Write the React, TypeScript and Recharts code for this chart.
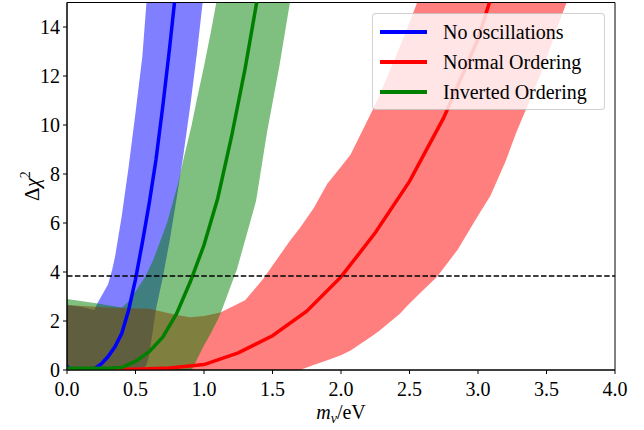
import React from 'react';
import { ComposedChart, Area, Line, XAxis, YAxis, ReferenceLine, ReferenceArea, Legend } from 'recharts';

const FONT = '"Liberation Serif", "DejaVu Serif", serif';

// Tick labels
const xTicks = [0, 0.5, 1, 1.5, 2, 2.5, 3, 3.5, 4];
const yTicks = [0, 2, 4, 6, 8, 10, 12, 14];
const threshold = 3.84;

// Series names / colours
const seriesNames = ['No oscillations', 'Normal Ordering', 'Inverted Ordering'];
const seriesColors = ['#0000ff', '#ff0000', '#008000'];

// No oscillations band
const blueBandX = [0, 0.1, 0.2, 0.22, 0.26, 0.3, 0.33, 0.35, 0.4, 0.45, 0.5, 0.55, 0.58, 0.6, 0.65, 0.7, 0.75, 0.8, 0.85, 0.9, 0.95, 1.0, 1.05];
const blueBandLo = [0, 0, 0, 0, 0, 0, 0, 0, 0, 0, 0, 0, 0.2, 0.6, 2.5, 3.8, 5.3, 7.0, 8.8, 10.8, 13.0, 15.5, 18];
const blueBandHi = [2.65, 2.58, 2.45, 2.7, 3.1, 3.5, 4.1, 4.6, 6.3, 8.3, 10.5, 12.8, 15.0, 16.5, 19, 20, 20, 20, 20, 20, 20, 20, 20];

// Normal ordering band
const redBandX = [0, 0.3, 0.6, 0.8, 0.9, 1.0, 1.12, 1.3, 1.43, 1.63, 1.7, 1.8, 1.9, 2.0, 2.07, 2.23, 2.28, 2.43, 2.48, 2.57, 2.7, 2.85, 3.0, 3.09, 3.2, 3.28, 3.4, 3.48, 3.58, 3.66, 3.75];
const redBandLo = [0, 0, 0, 0, 0, 0, 0, 0, 0, 0, 0, 0.2, 0.4, 0.6, 0.8, 1.4, 1.6, 2.3, 2.6, 3.1, 3.8, 4.9, 6.3, 7.1, 8.5, 9.7, 11.3, 12.4, 14.0, 15.2, 17];
const redBandHi = [2.65, 2.55, 2.5, 2.25, 2.15, 2.2, 2.35, 2.85, 3.7, 5.3, 5.8, 6.6, 7.6, 8.3, 8.8, 10.6, 11.2, 13.2, 13.9, 15.2, 18, 20, 20, 20, 20, 20, 20, 20, 20, 20, 20];

// Inverted ordering band
const greenBandX = [0, 0.2, 0.4, 0.45, 0.5, 0.57, 0.63, 0.73, 0.81, 0.85, 0.91, 0.95, 1.0, 1.05, 1.1, 1.12, 1.2, 1.24, 1.3, 1.38, 1.46, 1.55, 1.63, 1.7];
const greenBandLo = [0, 0, 0, 0, 0, 0, 0, 0, 0, 0, 0, 0.45, 1.0, 1.5, 2.05, 2.3, 3.5, 4.1, 5.3, 6.9, 9.7, 12.4, 15.1, 17];
const greenBandHi = [2.9, 2.73, 2.55, 2.8, 3.2, 3.8, 4.5, 6.0, 7.6, 8.6, 10.0, 11.1, 12.4, 13.8, 15.3, 16, 18, 20, 20, 20, 20, 20, 20, 20];

// Central curves
const blueLineX = [0, 0.02, 0.2, 0.25, 0.3, 0.35, 0.4, 0.45, 0.5, 0.55, 0.6, 0.65, 0.7, 0.75, 0.8];
const blueLineY = [0.15, 0.04, 0.04, 0.25, 0.55, 0.95, 1.5, 2.45, 3.7, 5.2, 6.8, 8.6, 10.8, 13.2, 15.8];
const redLineX = [0, 0.5, 0.75, 1.0, 1.25, 1.5, 1.75, 2.0, 2.25, 2.5, 2.75, 3.0, 3.1];
const redLineY = [0.03, 0.03, 0.08, 0.22, 0.7, 1.4, 2.4, 3.8, 5.6, 7.7, 10.3, 13.5, 15.3];
const greenLineX = [0, 0.3, 0.4, 0.5, 0.6, 0.7, 0.8, 0.9, 1.0, 1.1, 1.2, 1.3, 1.4];
const greenLineY = [0.07, 0.07, 0.1, 0.35, 0.75, 1.35, 2.3, 3.6, 5.1, 7.0, 9.5, 12.3, 15.5];

const toBand = (xs: number[], lo: number[], hi: number[]) => xs.map((x, i) => ({ x, range: [lo[i], hi[i]] }));
const toLine = (xs: number[], ys: number[]) => xs.map((x, i) => ({ x, y: ys[i] }));

const blueBand = toBand(blueBandX, blueBandLo, blueBandHi);
const redBand = toBand(redBandX, redBandLo, redBandHi);
const greenBand = toBand(greenBandX, greenBandLo, greenBandHi);
const blueLine = toLine(blueLineX, blueLineY);
const redLine = toLine(redLineX, redLineY);
const greenLine = toLine(greenLineX, greenLineY);

const LegendBox = () => (
  <div
    style={{
      width: 231,
      height: 95,
      background: 'rgba(255,255,255,0.8)',
      border: '1px solid rgba(0,0,0,0.18)',
      borderRadius: 4,
      boxSizing: 'content-box',
      position: 'relative',
      fontFamily: FONT,
      fontSize: 20,
      color: '#000',
    }}
  >
    {seriesNames.map((name, i) => (
      <div key={name} style={{ position: 'absolute', left: 0, top: 3 + i * 30, height: 30, display: 'flex', alignItems: 'center' }}>
        <div style={{ marginLeft: 7, width: 47, height: 4, background: seriesColors[i] }} />
        <span style={{ marginLeft: 16, whiteSpace: 'nowrap', lineHeight: '30px' }}>{name}</span>
      </div>
    ))}
  </div>
);

const XLabel = () => (
  <text x={341} y={419} textAnchor="middle" fontFamily={FONT} fontSize={20} fill="#000">
    <tspan fontStyle="italic">m</tspan>
    <tspan fontStyle="italic" fontSize={14} dy={4}>ν</tspan>
    <tspan dy={-4}>/eV</tspan>
  </text>
);

const YLabel = () => (
  <text x={0} y={0} transform="translate(39,186) rotate(-90)" textAnchor="middle" fontFamily={FONT} fontSize={21} fill="#000">
    <tspan>Δ</tspan>
    <tspan fontStyle="italic">χ</tspan>
    <tspan fontSize={14} dy={-9}>2</tspan>
  </text>
);

export default function App() {
  const tickStyle = { fontSize: 20, fill: '#000', fontFamily: FONT };
  return (
    <div style={{ position: 'absolute', left: 0, top: 0, width: 644, height: 430, background: '#fff' }}>
      <ComposedChart width={644} height={430} margin={{ top: 2.5, right: 29, bottom: 0, left: 0 }}>
        <XAxis
          type="number"
          dataKey="x"
          domain={[0, 4]}
          ticks={xTicks}
          allowDataOverflow
          tickFormatter={(v: number) => v.toFixed(1)}
          height={60}
          tick={tickStyle}
          tickLine={{ stroke: '#000' }}
          axisLine={{ stroke: '#000' }}
          tickSize={4}
          tickMargin={8}
          label={XLabel}
        />
        <YAxis
          type="number"
          domain={[0, 15]}
          ticks={yTicks}
          allowDataOverflow
          width={67}
          tick={tickStyle}
          tickLine={{ stroke: '#000' }}
          axisLine={{ stroke: '#000' }}
          tickSize={4}
          tickMargin={3}
          label={YLabel}
        />
        <Area data={blueBand} dataKey="range" type="linear" fill="#0000ff" fillOpacity={0.5} stroke="none" isAnimationActive={false} activeDot={false} />
        <Area data={redBand} dataKey="range" type="linear" fill="#ff0000" fillOpacity={0.5} stroke="none" isAnimationActive={false} activeDot={false} />
        <Area data={greenBand} dataKey="range" type="linear" fill="#008000" fillOpacity={0.5} stroke="none" isAnimationActive={false} activeDot={false} />
        <Line data={blueLine} dataKey="y" type="linear" stroke="#0000ff" strokeWidth={3.5} dot={false} activeDot={false} isAnimationActive={false} />
        <Line data={redLine} dataKey="y" type="linear" stroke="#ff0000" strokeWidth={3.5} dot={false} activeDot={false} isAnimationActive={false} />
        <Line data={greenLine} dataKey="y" type="linear" stroke="#008000" strokeWidth={3.5} dot={false} activeDot={false} isAnimationActive={false} />
        <ReferenceLine y={threshold} stroke="#000" strokeWidth={1.5} strokeDasharray="5.5 2.4" />
        <ReferenceArea x1={0} x2={4} y1={0} y2={15} fill="none" stroke="#000" strokeWidth={1} ifOverflow="visible" />
        <Legend
          layout="vertical"
          align="center"
          verticalAlign="middle"
          content={() => <LegendBox />}
          wrapperStyle={{ position: 'absolute', left: 372, top: 13, width: 233, height: 97 }}
        />
      </ComposedChart>
    </div>
  );
}
